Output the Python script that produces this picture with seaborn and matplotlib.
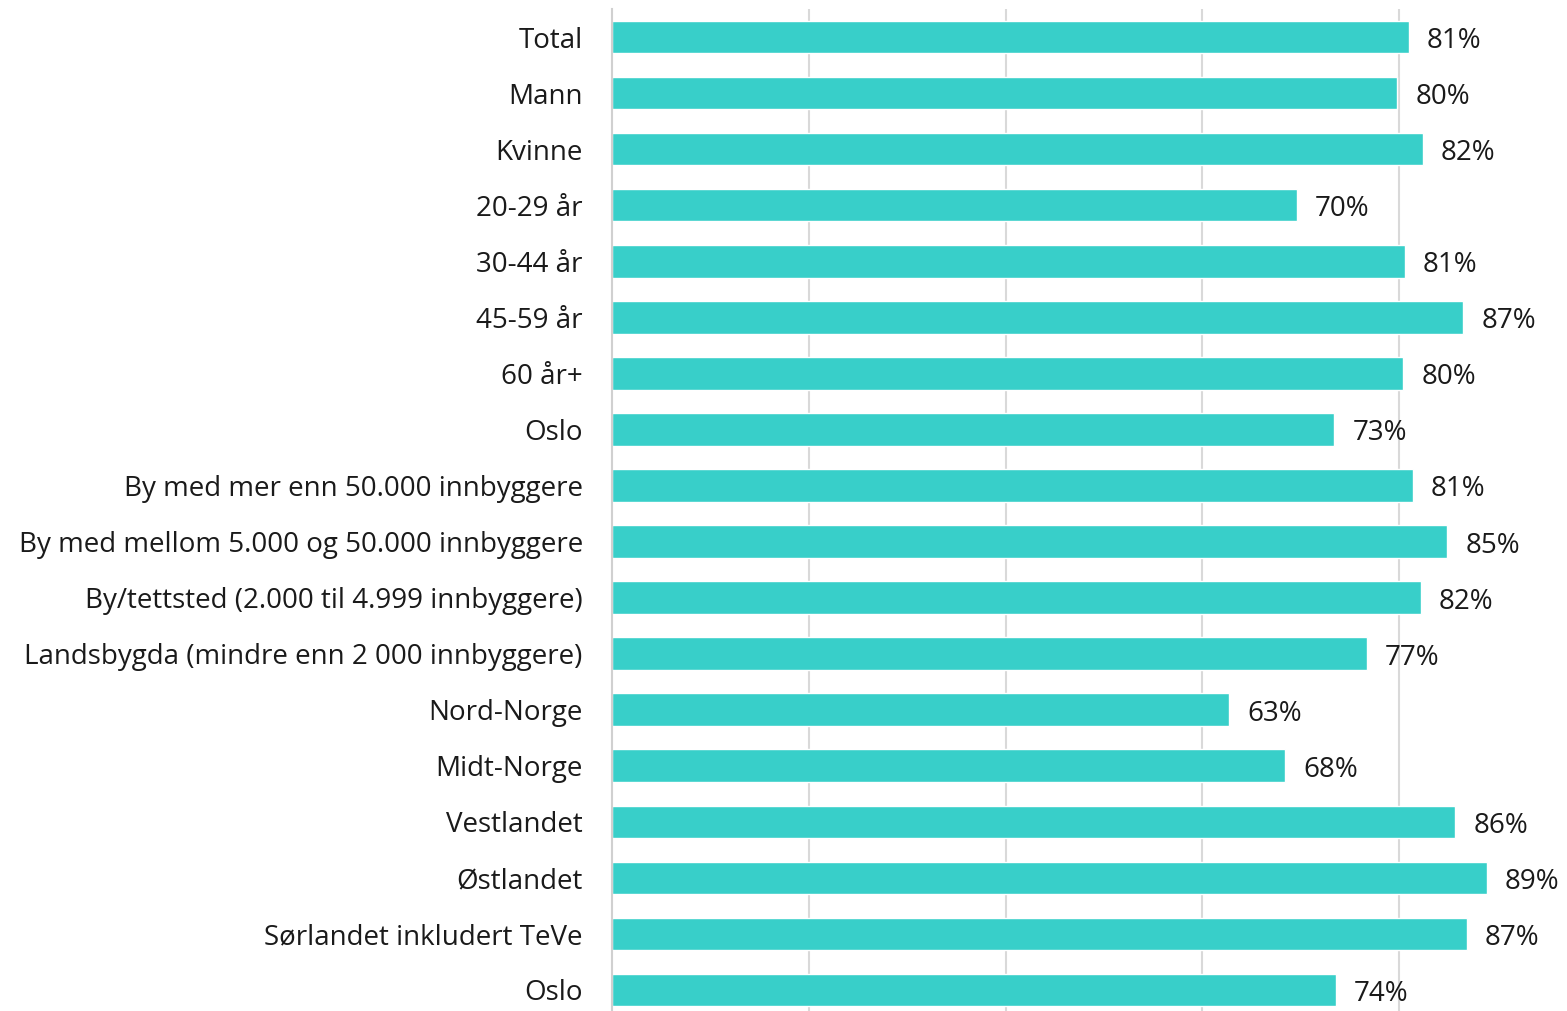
import matplotlib
matplotlib.use("Agg")
import matplotlib.pyplot as plt
import seaborn as sns
import pandas as pd

categories = [
    "Total", "Mann", "Kvinne", "20-29 år", "30-44 år", "45-59 år", "60 år+",
    "Oslo", "By med mer enn 50.000 innbyggere",
    "By med mellom 5.000 og 50.000 innbyggere",
    "By/tettsted (2.000 til 4.999 innbyggere)",
    "Landsbygda (mindre enn 2 000 innbyggere)",
    "Nord-Norge", "Midt-Norge", "Vestlandet", "Østlandet",
    "Sørlandet inkludert TeVe", "Oslo",
]
values = [0.810, 0.798, 0.824, 0.696, 0.806, 0.865, 0.804, 0.734, 0.814,
          0.849, 0.822, 0.767, 0.627, 0.684, 0.857, 0.889, 0.869, 0.736]
value_labels = ["81%", "80%", "82%", "70%", "81%", "87%", "80%", "73%", "81%",
                "85%", "82%", "77%", "63%", "68%", "86%", "89%", "87%", "74%"]

sns.set_theme(style="white")
plt.rcParams["font.family"] = ["Open Sans", "DejaVu Sans"]

df = pd.DataFrame({"pos": [f"r{i}" for i in range(len(categories))],
                   "val": values})

W, H = 1567, 1011
fig = plt.figure(figsize=(W / 100, H / 100), dpi=100)
ax = fig.add_axes([612 / W, -7 / H, (W - 612) / W, 1009 / H])

sns.barplot(data=df, y="pos", x="val", color="#38CFC9", saturation=1,
            width=0.58, ax=ax, zorder=2, orient="h")

ax.set_yticks(range(len(categories)))
ax.set_yticklabels(categories)
ax.set_xlim(0, (W - 612) / 984)
ax.set_ylim(len(categories) - 0.5, -0.5)
ax.set_xticks([0.2, 0.4, 0.6, 0.8])
ax.xaxis.grid(True, color="#D9D9D9", linewidth=1.5, zorder=0)
ax.set_axisbelow(True)
ax.tick_params(axis="x", length=0, labelbottom=False)
ax.tick_params(axis="y", length=0, pad=21, labelsize=20, labelcolor="#1a1a1a")
ax.set_xlabel("")
ax.set_ylabel("")
for s in ["top", "right", "bottom"]:
    ax.spines[s].set_visible(False)
ax.spines["left"].set_color("#D0D0D0")
ax.spines["left"].set_linewidth(1.5)

for i, (v, lab) in enumerate(zip(values, value_labels)):
    ax.annotate(lab, xy=(v, i), xytext=(18, -4), textcoords="offset pixels",
                va="center", ha="left", fontsize=20, color="#1a1a1a")

fig.savefig("out.png", dpi=100)
